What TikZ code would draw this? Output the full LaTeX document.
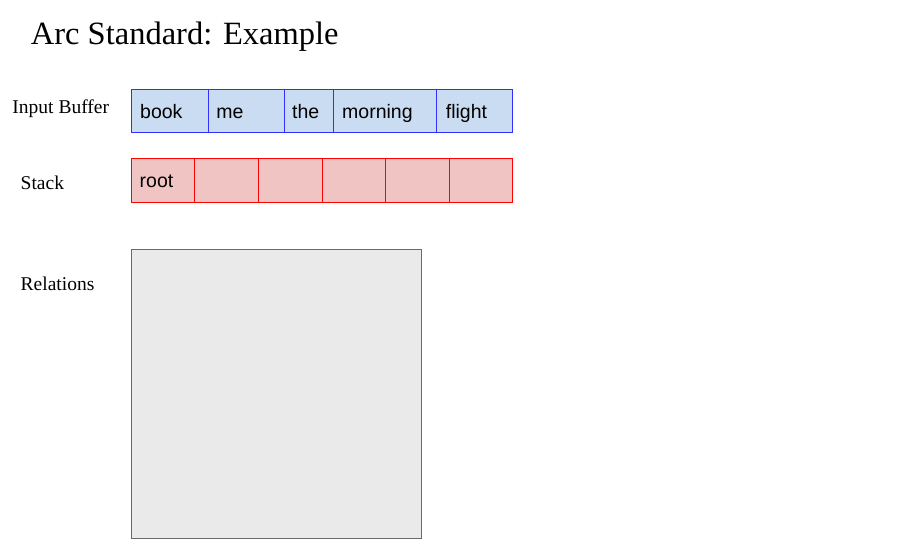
\documentclass[tikz,border=0pt]{standalone}
\usepackage{fontspec}
\setmainfont{Liberation Serif}
\newfontfamily\cellfont{Liberation Sans}
\definecolor{buffill}{HTML}{CADCF1}
\definecolor{bufdraw}{HTML}{3030FF}
\definecolor{stkfill}{HTML}{F1C4C4}
\definecolor{stkdraw}{HTML}{FF0000}
\definecolor{relfill}{HTML}{EAEAEA}
\definecolor{reldraw}{HTML}{6A6A6A}
\tikzset{
  bufcell/.style={draw=bufdraw, fill=buffill, line width=1pt, rectangle, inner sep=0pt, anchor=north west, minimum height=43pt},
  stkcell/.style={draw=stkdraw, fill=stkfill, line width=1pt, rectangle, inner sep=0pt, anchor=north west, minimum height=44pt},
  word/.style={font=\cellfont\fontsize{19.5pt}{22pt}\selectfont, inner sep=0pt, anchor=base west},
  sidelabel/.style={font=\fontsize{19.5pt}{22pt}\selectfont, inner sep=0pt, anchor=base west},
}
\begin{document}
\begin{tikzpicture}[x=1pt,y=-1pt]
\useasboundingbox (0,0) rectangle (909,553);
% title
\node[font=\fontsize{32.5pt}{36pt}\selectfont, inner sep=0pt, anchor=base west] (title) at (30.7,44.5) {Arc Standard: Example};
% side labels
\node[sidelabel] (lbuf) at (12.3,113.3) {Input Buffer};
\node[sidelabel] (lstk) at (20.5,190) {Stack};
\node[sidelabel] (lrel) at (20.5,290.5) {Relations};
% input buffer cells
\node[bufcell, minimum width=77pt] (b1) at (130.5,89.5) {};
\node[bufcell, minimum width=76pt] (b2) at (207.5,89.5) {};
\node[bufcell, minimum width=49pt] (b3) at (283.5,89.5) {};
\node[bufcell, minimum width=103pt] (b4) at (332.5,89.5) {};
\node[bufcell, minimum width=76pt] (b5) at (435.5,89.5) {};
\node[word] (w1) at (140,118.3) {book};
\node[word] (w2) at (216.2,118.3) {me};
\node[word] (w3) at (292,118.3) {the};
\node[word] (w4) at (342,118.3) {morning};
\node[word] (w5) at (445.7,118.3) {flight};
% stack cells
\node[stkcell, minimum width=63pt] (s1) at (130.5,158.5) {};
\node[stkcell, minimum width=64pt] (s2) at (193.5,158.5) {};
\node[stkcell, minimum width=64pt] (s3) at (257.5,158.5) {};
\node[stkcell, minimum width=63pt] (s4) at (321.5,158.5) {};
\node[stkcell, minimum width=64pt] (s5) at (384.5,158.5) {};
\node[stkcell, minimum width=63pt] (s6) at (448.5,158.5) {};
\node[word] (w6) at (139.5,187.3) {root};
% relations box
\node[draw=reldraw, fill=relfill, line width=1pt, rectangle, inner sep=0pt, anchor=north west, minimum width=290pt, minimum height=289pt] (rel) at (130.5,248.5) {};
\end{tikzpicture}
\end{document}
